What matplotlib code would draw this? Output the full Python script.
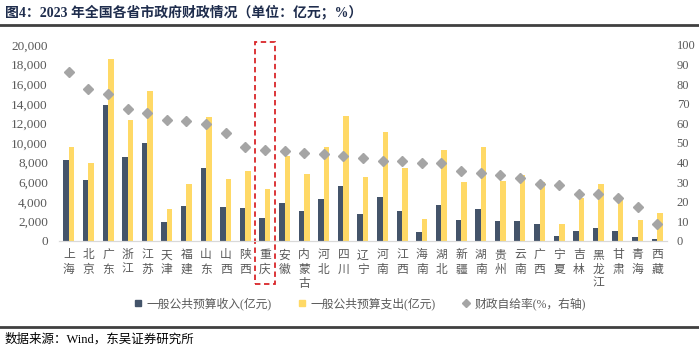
import numpy as np
import matplotlib
matplotlib.use("Agg")
import matplotlib.pyplot as plt
import matplotlib.transforms as mtransforms
from matplotlib.patches import Rectangle
from matplotlib.lines import Line2D

FONTS = ['Liberation Serif', 'Noto Sans CJK SC']
plt.rcParams['font.family'] = FONTS

# Données (lecture sur le graphique)
provinces = ['上海', '北京', '广东', '浙江', '江苏', '天津', '福建', '山东', '山西', '陕西',
             '重庆', '安徽', '内蒙古', '河北', '四川', '辽宁', '河南', '江西', '海南', '湖北',
             '新疆', '湖南', '贵州', '云南', '广西', '宁夏', '吉林', '黑龙江', '甘肃', '青海', '西藏']
revenue = [8313, 6201, 13867, 8586, 9949, 1976, 3578, 7496, 3441, 3407,
           2385, 3918, 3032, 4259, 5588, 2760, 4497, 3032, 886, 3714,
           2147, 3305, 2044, 2078, 1772, 477, 1056, 1363, 988, 375, 170]
expenditure = [9608, 8007, 18535, 12368, 15298, 3237, 5860, 12607, 6337, 7189,
               5315, 8654, 6814, 9642, 12709, 6542, 11073, 7462, 2215, 9302,
               6031, 9574, 6167, 6712, 6065, 1704, 4395, 5792, 4463, 2147, 2828]
self_rate = [86.4, 77.5, 75.1, 67.1, 65.4, 61.8, 61.3, 59.5, 54.9, 47.9,
             46.3, 45.7, 45.1, 44.6, 43.4, 42.1, 40.9, 40.9, 40.0, 39.7,
             35.9, 34.9, 33.6, 31.9, 29.1, 28.6, 24.2, 23.9, 22.1, 17.2, 8.9]
highlight = '重庆'

c_rev = '#44546A'
c_exp = '#FFD966'
c_rate = '#A5A5A5'
c_txt = '#595959'

fig = plt.figure(figsize=(6.99, 3.51), dpi=100)
ax = fig.add_axes([0.0844, 0.3134, 0.8698, 0.5584])
ax2 = ax.twinx()

x = np.arange(len(provinces))
w = 0.28
ax.bar(x - w / 2, revenue, width=w, color=c_rev, zorder=2)
ax.bar(x + w / 2, expenditure, width=w, color=c_exp, zorder=2)
ax2.plot(x, self_rate, linestyle='none', marker='D', markersize=5.5, color=c_rate, zorder=3)

ax.set_xlim(-0.5, len(provinces) - 0.5)
ax.set_ylim(0, 20000)
ax.set_yticks(np.arange(0, 20001, 2000))
ax.set_yticklabels([f'{v:,}' for v in range(0, 20001, 2000)])
ax2.set_ylim(0, 100)
ax2.set_yticks(np.arange(0, 101, 10))

ax.set_xticks(x)
ax.set_xticklabels(['\n'.join(p) for p in provinces], fontsize=8.5, color=c_txt, linespacing=1.25)
for a in (ax, ax2):
    for s in ['top', 'left', 'right']:
        a.spines[s].set_visible(False)
    a.spines['bottom'].set_color('#D9D9D9')
    a.tick_params(length=0, labelsize=9.5, labelcolor=c_txt)
ax.tick_params(axis='x', pad=6, labelsize=8.5)
ax.tick_params(axis='y', pad=8)
ax2.tick_params(axis='y', pad=7, labelsize=9)

# Encadré rouge autour du Chongqing
i = provinces.index(highlight)
trans = mtransforms.blended_transform_factory(ax.transData, ax.transAxes)
ax.add_patch(Rectangle((i - 0.5, -0.22), 1.0, 1.235, transform=trans, fill=False,
                       edgecolor='#D9262A', linestyle=(0, (3, 2)), linewidth=1.3, clip_on=False, zorder=5))

# Légende
handles = [Line2D([], [], linestyle='none', marker='s', markersize=5, color=c_rev),
           Line2D([], [], linestyle='none', marker='s', markersize=5, color=c_exp),
           Line2D([], [], linestyle='none', marker='D', markersize=4, color=c_rate)]
labels = ['一般公共预算收入(亿元)', '一般公共预算支出(亿元)', '财政自给率(%，右轴)']
fig.legend(handles, labels, loc='center', bbox_to_anchor=(0.514, 0.134), ncol=3, frameon=False,
           fontsize=8.5, labelcolor=c_txt, handlelength=0.8, handletextpad=0.3, columnspacing=2.2)

# Titre, lignes et source
fig.text(0.007, 0.965, '图4：2023 年全国各省市政府财政情况（单位：亿元；%）', fontsize=10,
         fontweight='bold', color='#1F2D4D', va='center', ha='left')
fig.add_artist(Line2D([0, 1], [0.929, 0.929], color='#404040', linewidth=2))
fig.add_artist(Line2D([0, 1], [0.068, 0.068], color='#404040', linewidth=2))
fig.text(0.007, 0.034, '数据来源：Wind，东吴证券研究所', fontsize=9, color='black', va='center', ha='left')

fig.savefig('out.png', dpi=100)
